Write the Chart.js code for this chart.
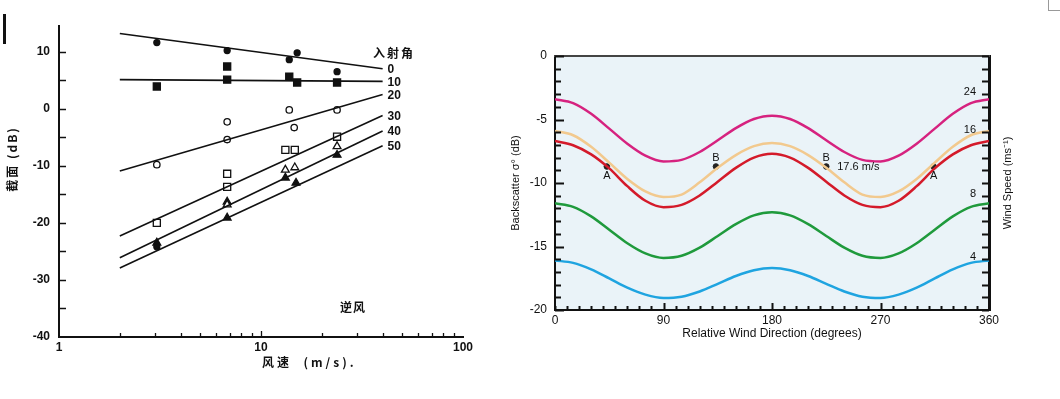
<!DOCTYPE html>
<html lang="zh">
<head>
<meta charset="utf-8">
<title>截面 / Backscatter</title>
<script src="https://cdn.jsdelivr.net/npm/chart.js@4.4.1/dist/chart.umd.min.js"></script>
<style>
  html, body { margin: 0; padding: 0; background: #fff; }
  #page { position: relative; width: 1060px; height: 399px; overflow: hidden; }
  #gauche { position: absolute; left: 0; top: 0; }
  #droite { position: absolute; left: 500px; top: 0; }
  .trait { position: absolute; left: 3px; top: 14px; width: 3px; height: 30px; background: #111; }
  .coin { position: absolute; left: 1048px; top: 0; width: 14px; height: 10px; border-left: 1px solid #999; border-bottom: 1px solid #999; }
</style>
</head>
<body>
<div id="page">
  <canvas id="gauche" width="520" height="399"></canvas>
  <canvas id="droite" width="560" height="399"></canvas>
  <div class="trait"></div>
  <div class="coin"></div>
</div>
<script>
// ==========================================
// 1. DONNÉES - panneau gauche (vitesse du vent, échelle log)
// ==========================================
const vitesseLigne = [2, 40];
const angleLabels = ['0', '10', '20', '30', '40', '50'];
const ligneAngle0 = [13.2, 7.0];
const ligneAngle10 = [5.1, 4.8];
const ligneAngle20 = [-10.9, 2.5];
const ligneAngle30 = [-22.3, -1.2];
const ligneAngle40 = [-26.1, -3.9];
const ligneAngle50 = [-27.9, -6.5];

// mesures (x = vitesse m/s, y = dB)
const rondPleinX = [3.05, 6.8, 13.8, 15.1, 23.8, 3.05];
const rondPleinY = [11.6, 10.2, 8.6, 9.8, 6.5, -24.2];
const carrePleinX = [3.05, 6.8, 6.8, 13.8, 15.1, 23.8];
const carrePleinY = [3.9, 7.4, 5.1, 5.6, 4.6, 4.6];
const rondVideX = [3.05, 6.8, 6.8, 13.8, 14.6, 23.8];
const rondVideY = [-9.8, -2.3, -5.4, -0.2, -3.3, -0.2];
const carreVideX = [3.05, 6.8, 6.8, 13.2, 14.7, 23.8];
const carreVideY = [-20.0, -11.4, -13.7, -7.2, -7.2, -4.9];
const triVideX = [6.8, 13.2, 14.7, 23.8];
const triVideY = [-16.8, -10.7, -10.3, -6.6];
const triPleinX = [3.05, 6.8, 6.8, 13.2, 14.9, 23.8];
const triPleinY = [-23.5, -16.3, -19.1, -12.1, -13.0, -8.1];

const ticksLogLabels = [1, 10, 100];
const ticksLogMineurs = [2, 3, 4, 5, 6, 7, 8, 9, 10, 20, 30, 40, 50, 60, 70, 80, 90];
const ticksDbLabels = [-40, -30, -20, -10, 0, 10];
const ticksDbTous = [-35, -30, -25, -20, -15, -10, -5, 0, 5, 10];

// ==========================================
// 2. DONNÉES - panneau droit (direction relative du vent)
// ==========================================
const direction = [0, 15, 30, 45, 60, 75, 90, 105, 120, 135, 150, 165, 180,
                   195, 210, 225, 240, 255, 270, 285, 300, 315, 330, 345, 360];
const vent24 = [-3.40, -3.71, -4.55, -5.72, -6.91, -7.85, -8.30, -8.18, -7.56, -6.64, -5.68, -4.96, -4.70,
                -4.96, -5.68, -6.64, -7.56, -8.18, -8.30, -7.85, -6.91, -5.72, -4.55, -3.71, -3.40];
const vent16 = [-5.90, -6.24, -7.15, -8.40, -9.68, -10.66, -11.10, -10.91, -9.95, -8.80, -7.80, -7.10, -6.85,
                -7.10, -7.80, -8.80, -9.95, -10.91, -11.10, -10.66, -9.68, -8.40, -7.15, -6.24, -5.90];
const ventRouge = [-6.70, -7.03, -7.75, -8.85, -10.25, -11.40, -11.90, -11.72, -10.98, -9.90, -8.81, -8.00, -7.70,
                   -8.00, -8.81, -9.90, -10.98, -11.72, -11.90, -11.40, -10.25, -8.85, -7.75, -7.03, -6.70];
const vent8 = [-11.60, -11.88, -12.63, -13.68, -14.74, -15.54, -15.90, -15.73, -15.09, -14.17, -13.24, -12.55, -12.30,
               -12.55, -13.24, -14.17, -15.09, -15.73, -15.90, -15.54, -14.74, -13.68, -12.63, -11.88, -11.60];
const vent4 = [-16.10, -16.29, -16.80, -17.51, -18.24, -18.79, -19.05, -18.95, -18.54, -17.94, -17.32, -16.87, -16.70,
               -16.87, -17.32, -17.94, -18.54, -18.95, -19.05, -18.79, -18.24, -17.51, -16.80, -16.29, -16.10];

const marqueX = [43, 133.5, 225, 314];
const marqueY = [-8.7, -8.7, -8.7, -8.7];
const marqueLabels = ['A', 'B', 'B', 'A'];
const marqueVitesse = '17.6 m/s';

const ticksDirLabels = [0, 90, 180, 270, 360];
const ticksSigmaLabels = [-20, -15, -10, -5, 0];
const ventTickPos = [-3, -6, -11, -16];
const ventTickLabels = ['24', '16', '8', '4'];

// ==========================================
// 3. PLUGINS UTILITAIRES
// ==========================================
Chart.defaults.font.family = '"Liberation Sans", Arial, sans-serif';
Chart.defaults.color = '#111';

// graduations tournées vers l'intérieur
const pluginTicksInternes = {
    id: 'ticksInternes',
    afterDraw(chart, args, opts) {
        const ctx = chart.ctx;
        const area = chart.chartArea;
        ctx.save();
        ctx.strokeStyle = opts.couleur || '#111';
        (opts.series || []).forEach(s => {
            const scale = chart.scales[s.axe];
            ctx.lineWidth = s.epaisseur || 1.5;
            s.valeurs.forEach(v => {
                const p = Math.round(scale.getPixelForValue(v)) + 0.5;
                const l = (s.majeurs && s.majeurs.includes(v)) ? s.longMajeur : s.long;
                ctx.beginPath();
                if (s.cote === 'bas') { ctx.moveTo(p, area.bottom); ctx.lineTo(p, area.bottom - l); }
                else if (s.cote === 'gauche') { ctx.moveTo(area.left, p); ctx.lineTo(area.left + l, p); }
                else { ctx.moveTo(area.right, p); ctx.lineTo(area.right - l, p); }
                ctx.stroke();
            });
        });
        ctx.restore();
    }
};

// textes libres (titres, étiquettes de courbes)
const pluginTextes = {
    id: 'textes',
    afterDraw(chart, args, opts) {
        const ctx = chart.ctx;
        ctx.save();
        (opts.items || []).forEach(t => {
            let x = t.px, y = t.py;
            if (t.xVal !== undefined) {
                x = chart.scales[t.axeX || 'x'].getPixelForValue(t.xVal) + (t.dx || 0);
                y = chart.scales[t.axeY || 'y'].getPixelForValue(t.yVal) + (t.dy || 0);
            } else if (t.bordDroit) {
                // collé au bord droit de la zone de tracé
                x = chart.chartArea.right + t.dx;
                y = chart.scales[t.axeY || 'y'].getPixelForValue(t.yVal) + (t.dy || 0);
            }
            ctx.save();
            ctx.font = t.font;
            ctx.fillStyle = t.couleur || '#111';
            ctx.textAlign = t.align || 'left';
            ctx.textBaseline = 'middle';
            ctx.letterSpacing = t.espacement || '0px';
            ctx.translate(x, y);
            if (t.rotation) ctx.rotate(t.rotation);
            ctx.fillText(t.texte, 0, 0);
            ctx.restore();
        });
        ctx.restore();
    }
};

// fond bleuté + cadre haut du panneau droit
const pluginCadre = {
    id: 'cadre',
    beforeDraw(chart, args, opts) {
        const a = chart.chartArea;
        chart.ctx.save();
        chart.ctx.fillStyle = opts.fond;
        chart.ctx.fillRect(a.left, a.top, a.right - a.left, a.bottom - a.top);
        chart.ctx.restore();
    },
    afterDraw(chart, args, opts) {
        const a = chart.chartArea;
        const ctx = chart.ctx;
        ctx.save();
        ctx.strokeStyle = opts.haut;
        ctx.lineWidth = 2;
        ctx.beginPath();
        ctx.moveTo(a.left - 1, a.top);
        ctx.lineTo(a.right + 1, a.top);
        ctx.stroke();
        ctx.restore();
    }
};

function pts(xs, ys) {
    return xs.map((x, i) => ({ x: x, y: ys[i] }));
}

// ==========================================
// 4. GRAPHIQUE GAUCHE
// ==========================================
const lignes = [ligneAngle0, ligneAngle10, ligneAngle20, ligneAngle30, ligneAngle40, ligneAngle50];
const policeGras = 'bold 12px "Liberation Sans", "Noto Sans CJK SC", sans-serif';
const policeCjk = 'bold 12px "Noto Sans CJK SC", sans-serif';

const datasetsGauche = lignes.map((l, i) => ({
    label: angleLabels[i],
    data: pts(vitesseLigne, l),
    showLine: true,
    borderColor: '#111',
    borderWidth: 1.6,
    pointRadius: 0
}));

function marqueurs(xs, ys, style, plein, rayon) {
    return {
        data: pts(xs, ys),
        showLine: false,
        pointStyle: style,
        pointRadius: rayon,
        pointBackgroundColor: plein ? '#111' : '#fff',
        pointBorderColor: '#111',
        pointBorderWidth: 1.3
    };
}
datasetsGauche.push(
    marqueurs(rondPleinX, rondPleinY, 'circle', true, 3),
    marqueurs(carrePleinX, carrePleinY, 'rect', true, 5),
    marqueurs(rondVideX, rondVideY, 'circle', false, 3.2),
    marqueurs(carreVideX, carreVideY, 'rect', false, 5),
    marqueurs(triVideX, triVideY, 'triangle', false, 4.5),
    marqueurs(triPleinX, triPleinY, 'triangle', true, 4.5)
);

const textesGauche = lignes.map((l, i) => ({
    texte: angleLabels[i], xVal: vitesseLigne[1], yVal: l[1], dx: 5, dy: 1, font: policeGras
}));
textesGauche.push(
    { texte: '入射角', px: 373, py: 53, font: policeCjk, espacement: '2px' },
    { texte: '逆风', px: 340, py: 307, font: policeCjk, espacement: '1px' },
    { texte: '风速  (m/s).', px: 262, py: 362, font: policeCjk, espacement: '3px' },
    { texte: '截面 (dB)', px: 12, py: 159, font: policeCjk, espacement: '2px', align: 'center', rotation: -Math.PI / 2 }
);

new Chart(document.getElementById('gauche'), {
    type: 'scatter',
    data: { datasets: datasetsGauche },
    options: {
        responsive: false,
        animation: false,
        layout: { padding: { top: 26, right: 57, left: 0, bottom: 0 } },
        plugins: {
            legend: { display: false },
            tooltip: { enabled: false },
            ticksInternes: {
                series: [
                    { axe: 'y', cote: 'gauche', valeurs: ticksDbTous, long: 7, epaisseur: 1.5 },
                    { axe: 'x', cote: 'bas', valeurs: ticksLogMineurs, long: 4, majeurs: [10], longMajeur: 6, epaisseur: 1.3 }
                ]
            },
            textes: { items: textesGauche }
        },
        scales: {
            x: {
                type: 'logarithmic', min: 1, max: 100,
                afterFit: s => { s.height = 62; },
                afterBuildTicks: s => { s.ticks = ticksLogLabels.map(v => ({ value: v })); },
                grid: { display: true, drawOnChartArea: false, drawTicks: false },
                border: { color: '#111', width: 2 },
                ticks: { autoSkip: false, maxRotation: 0, padding: 3, font: { size: 12, weight: 'bold' }, callback: v => String(v) }
            },
            y: {
                min: -40, max: 14.5,
                afterFit: s => { s.width = 59; },
                afterBuildTicks: s => { s.ticks = ticksDbLabels.map(v => ({ value: v })); },
                grid: { display: true, drawOnChartArea: false, drawTicks: false },
                border: { color: '#111', width: 2 },
                ticks: { padding: 9, font: { size: 12, weight: 'bold' }, callback: v => String(v) }
            }
        }
    },
    plugins: [pluginTicksInternes, pluginTextes]
});

// ==========================================
// 5. GRAPHIQUE DROIT
// ==========================================
const courbes = [
    { vals: vent24, couleur: '#d6227f' },
    { vals: vent16, couleur: '#f2c98e' },
    { vals: ventRouge, couleur: '#d41a2a' },
    { vals: vent8, couleur: '#1f9a3c' },
    { vals: vent4, couleur: '#1fa4e0' }
];
const datasetsDroite = courbes.map(c => ({
    data: pts(direction, c.vals),
    showLine: true,
    borderColor: c.couleur,
    borderWidth: 2.5,
    pointRadius: 0,
    cubicInterpolationMode: 'monotone'
}));
datasetsDroite.push({
    data: pts(marqueX, marqueY),
    showLine: false,
    pointRadius: 2.8,
    pointBackgroundColor: '#222',
    pointBorderColor: '#222'
});

const police11 = '11px "Liberation Sans", Arial, sans-serif';
const textesDroite = marqueLabels.map((t, i) => ({
    texte: t, xVal: marqueX[i], yVal: marqueY[i], dy: t === 'A' ? 9 : -9, align: 'center', font: police11
}));
textesDroite.push(
    { texte: marqueVitesse, xVal: marqueX[2], yVal: marqueY[2], dx: 11, dy: 0, font: police11 },
    { texte: 'Wind Speed (ms⁻¹)', px: 508, py: 183, align: 'center', rotation: -Math.PI / 2, font: police11 }
);
// étiquettes de vitesse du vent, à l'intérieur contre l'axe droit
ventTickPos.forEach((v, i) => {
    textesDroite.push({ texte: ventTickLabels[i], bordDroit: true, yVal: v, axeY: 'yVent', dx: -13, dy: -2, align: 'right', font: police11 });
});

new Chart(document.getElementById('droite'), {
    type: 'scatter',
    data: { datasets: datasetsDroite },
    options: {
        responsive: false,
        animation: false,
        layout: { padding: { top: 56, right: 40, bottom: 58, left: 0 } },
        plugins: {
            legend: { display: false },
            tooltip: { enabled: false },
            cadre: { fond: '#eaf3f8', haut: '#444' },
            ticksInternes: {
                couleur: '#111',
                series: [
                    { axe: 'y', cote: 'gauche', valeurs: Array.from({ length: 21 }, (_, i) => -i), long: 6, majeurs: ticksSigmaLabels, longMajeur: 9, epaisseur: 2 },
                    { axe: 'x', cote: 'bas', valeurs: Array.from({ length: 37 }, (_, i) => i * 10), long: 4, majeurs: [90, 180, 270], longMajeur: 7, epaisseur: 2 },
                    { axe: 'yVent', cote: 'droite', valeurs: Array.from({ length: 21 }, (_, i) => -i), long: 7, epaisseur: 2 }
                ]
            },
            textes: { items: textesDroite }
        },
        scales: {
            x: {
                type: 'linear', min: 0, max: 360,
                afterFit: s => { s.height = 31; },
                afterBuildTicks: s => { s.ticks = ticksDirLabels.map(v => ({ value: v })); },
                grid: { display: true, drawOnChartArea: false, drawTicks: false },
                border: { color: '#111', width: 2 },
                ticks: { autoSkip: false, maxRotation: 0, padding: 3, font: { size: 12 } },
                title: { display: true, text: 'Relative Wind Direction (degrees)', font: { size: 12 }, padding: { top: 0, bottom: 0 } }
            },
            y: {
                position: 'left', min: -20, max: 0,
                afterFit: s => { s.width = 55; },
                afterBuildTicks: s => { s.ticks = ticksSigmaLabels.map(v => ({ value: v })); },
                grid: { display: true, drawOnChartArea: false, drawTicks: false },
                border: { color: '#111', width: 2 },
                ticks: { padding: 8, font: { size: 12 } },
                title: { display: true, text: 'Backscatter σ° (dB)', font: { size: 11 }, padding: { top: 9, bottom: 0 } }
            },
            yVent: {
                position: 'right', min: -20, max: 0,
                afterFit: s => { s.width = 31; },
                grid: { display: true, drawOnChartArea: false, drawTicks: false },
                border: { color: '#111', width: 3 },
                ticks: { display: false }
            }
        }
    },
    plugins: [pluginCadre, pluginTicksInternes, pluginTextes]
});
</script>
</body>
</html>
